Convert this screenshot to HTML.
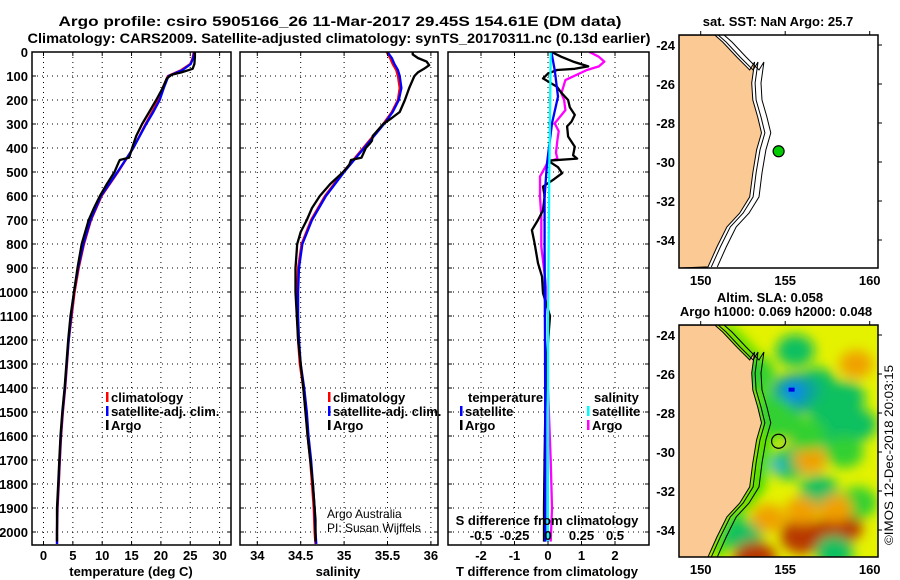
<!DOCTYPE html>
<html><head><meta charset="utf-8">
<style>
html,body{margin:0;padding:0;background:#fff;}
svg{display:block;font-family:"Liberation Sans",sans-serif;}
.b{font-weight:bold;font-size:13px;}
</style></head>
<body>
<svg id="fig" width="900" height="580" viewBox="0 0 900 580" xmlns="http://www.w3.org/2000/svg">
<defs>
<clipPath id="c1"><rect x="32" y="52" width="199" height="493"/></clipPath>
<clipPath id="c2"><rect x="240" y="52" width="198" height="493"/></clipPath>
<clipPath id="c3"><rect x="448" y="52" width="201" height="493"/></clipPath>
<clipPath id="cm1"><rect x="679" y="35" width="199" height="233"/></clipPath>
<clipPath id="cm2"><rect x="679" y="325" width="199" height="232"/></clipPath>
<filter id="blur" x="-50%" y="-50%" width="200%" height="200%"><feGaussianBlur stdDeviation="6"/></filter>
</defs>
<text x="340" y="26" text-anchor="middle" font-weight="bold" font-size="14" textLength="563" lengthAdjust="spacingAndGlyphs">Argo profile: csiro 5905166_26 11-Mar-2017 29.45S 154.61E (DM data)</text>
<text x="339" y="43" text-anchor="middle" font-weight="bold" font-size="14" textLength="623" lengthAdjust="spacingAndGlyphs">Climatology: CARS2009. Satellite-adjusted climatology: synTS_20170311.nc (0.13d earlier)</text>
<g id="g1"></g>
<g id="g2"></g>
<g id="g3"></g>
<g id="m1"></g>
<g id="m2"></g>
<text transform="translate(893,455) rotate(-90)" text-anchor="middle" font-size="12" textLength="180" lengthAdjust="spacingAndGlyphs">©IMOS 12-Dec-2018 20:03:15</text>
</svg>
<script>
// ---- data ----
const argoTDepth=[0,20,50,70,85,95,110,150,200,250,300,350,400,440,450,460,500,550,600,650,700,800,900,1000,1100,1200,1300,1400,1500,1600,1700,1800,1900,2000,2040];
const argoTemp=[25.8,25.8,25.7,25.4,23.5,21.8,21.0,20.3,19.2,18.0,16.8,15.8,15.1,14.6,13.0,12.8,12.1,10.8,9.6,8.6,7.7,6.5,5.8,5.2,4.6,4.2,3.9,3.6,3.2,2.9,2.7,2.5,2.3,2.3,2.3];
const climDepth=[0,25,50,75,100,150,200,250,300,400,500,600,700,800,900,1000,1100,1200,1300,1400,1500,1600,1700,1800,1900,2000,2050];
const climTemp=[25.6,25.4,25.0,23.5,21.2,20.3,19.6,18.5,17.4,15.3,12.7,9.9,8.1,6.9,6.0,5.3,4.8,4.3,4.0,3.7,3.3,3.0,2.8,2.6,2.4,2.3,2.3];
const satTemp=[25.7,25.5,25.1,23.7,21.3,20.5,19.8,18.7,17.5,15.3,12.6,9.8,8.0,6.8,5.9,5.2,4.7,4.3,3.95,3.65,3.25,2.95,2.75,2.55,2.35,2.3,2.3];
const argoSDepth=[0,10,25,40,55,70,85,100,150,200,250,275,300,350,370,380,400,440,450,470,500,550,600,650,700,750,800,900,1000,1200,1400,1600,1800,1900,1950,2040];
const argoSal=[35.79,35.79,35.85,35.95,35.98,35.92,35.85,35.81,35.75,35.7,35.64,35.55,35.45,35.33,35.32,35.3,35.25,35.2,35.08,35.06,34.99,34.84,34.72,34.63,34.57,34.5,34.46,34.44,34.44,34.47,34.53,34.58,34.64,34.66,34.67,34.67];
const climSal=[35.49,35.53,35.56,35.6,35.62,35.64,35.62,35.55,35.45,35.22,34.99,34.78,34.62,34.51,34.47,34.46,34.46,34.47,34.49,34.53,34.56,34.58,34.61,34.63,34.65,34.66,34.67];
const satSal=[35.5,35.55,35.58,35.62,35.64,35.66,35.63,35.56,35.46,35.23,35.0,34.79,34.63,34.52,34.48,34.47,34.47,34.48,34.5,34.54,34.57,34.59,34.62,34.64,34.66,34.67,34.68];
const tDiffArgoDepth=[0,20,40,60,70,75,90,110,145,170,200,230,262,290,310,352,395,430,444,453,480,505,533,561,600,660,700,742,797,880,936,1005,1100,1300,1500,1700,1900,2040];
const tDiffArgo=[0.1,0.4,0.75,1.2,0.8,0.27,0.0,-0.15,0.27,0.4,0.6,0.65,0.8,0.7,0.57,0.6,0.8,0.75,0.87,0.0,0.3,0.42,0.15,-0.15,-0.1,-0.15,-0.3,-0.48,-0.4,-0.3,-0.18,-0.15,0.06,-0.05,-0.08,-0.1,-0.12,-0.12];
const sDiffArgoDepth=[0,20,40,60,75,117,172,200,242,297,330,367,420,444,458,519,603,686,811,950,1100,1400,1700,1900,2040];
const sDiffArgo=[0.31,0.38,0.42,0.38,0.29,0.13,0.1,0.12,0.13,0.05,0.08,0.07,0.06,0.07,0.0,-0.06,-0.06,-0.05,-0.05,-0.02,0.0,0.0,0.02,0.03,0.02];
const tDiffSatDepth=[0,75,186,297,464,603,800,1200,1600,2040];
const tDiffSat=[0.1,0.2,0.3,0.12,-0.03,-0.1,-0.1,-0.09,-0.08,-0.08];
const sDiffSatDepth=[0,500,1100,2040];
const sDiffSat=[0.02,0.01,0.0,0.0];
const depthTicks=[0,100,200,300,400,500,600,700,800,900,1000,1100,1200,1300,1400,1500,1600,1700,1800,1900,2000];
const tempTicks=[0,5,10,15,20,25,30];
const salTicks=[34,34.5,35,35.5,36];
const salTickLabels=["34","34.5","35","35.5","36"];
const tDiffTicks=[-2,-1,0,1,2];
const sDiffTicks=[-0.5,-0.25,0,0.25,0.5];
const sDiffTickLabels=["-0.5","-0.25","0","0.25","0.5"];
const lonTicks=[150,155,160];
const latTicks=[-24,-26,-28,-30,-32,-34];
const coastLon=[150.84,151.31,152.14,152.9,153.19,153.02,153.08,153.37,153.6,153.31,153.08,152.9,152.31,151.55,150.96,150.43];
const coastLat=[-23.49,-23.85,-24.62,-25.28,-24.87,-25.95,-26.82,-27.69,-28.51,-29.38,-30.56,-31.79,-32.62,-33.33,-34.36,-35.38];
const floatLon=154.61, floatLat=-29.45;
// SLA blobs: lon, lat, level
const blobLon=[155.6,156.9,158.6,155.6,155.3,155.8,156.5,157.0,156.0,158.3,157.9,152.5,159.2,159.3,154.3,153.3,157.5,153.2,157.5,159.3,158.5,156.3,154.0,156.0,158.0,155.0];
const blobLat=[-24.8,-26.5,-27.2,-27.0,-30.6,-29.0,-30.4,-32.0,-34.3,-33.8,-35.1,-34.3,-25.5,-32.6,-28.0,-26.0,-29.0,-35.5,-27.8,-28.6,-30.0,-29.1,-33.4,-33.0,-32.9,-28.5];
const blobLevel=[-0.3,-0.3,-0.3,-0.8,-0.5,0.35,0.4,-0.3,0.9,0.8,-0.4,-0.3,0.35,-0.25,-0.2,-0.2,-0.3,0.9,-0.3,-0.3,-0.25,-0.2,0.4,0.4,0.4,-0.2];

const NS="http://www.w3.org/2000/svg";
function mk(tag,attrs,parent){const e=document.createElementNS(NS,tag);for(const k in attrs)e.setAttribute(k,attrs[k]);parent.appendChild(e);return e;}
function txt(s,attrs,parent){const e=mk('text',attrs,parent);e.textContent=s;return e;}
const yD=d=>52+d*0.24;
const xT=t=>43.5+t*5.87;
const xS=s=>257.3+(s-34)*86.8;
const xDT=t=>548+t*33.5;
const xDS=s=>548+s*134;

function series(g,depths,vals,xf,color,name){
  const pts=depths.map((d,i)=>xf(vals[i]).toFixed(1)+','+yD(d).toFixed(1)).join(' ');
  const p=mk('polyline',{points:pts,fill:'none',stroke:color,'stroke-width':2.3,'stroke-linejoin':'round'},g);
  
  
}
function frame(g,x0,x1,clip,gridXs){
  const gg=mk('g',{'clip-path':'url(#'+clip+')'},g);
  gridXs.forEach(x=>{const l=mk('line',{x1:x,x2:x,y1:52,y2:545,stroke:'#000','stroke-width':1,'stroke-dasharray':'1,4'},gg);
    
    });
  depthTicks.forEach(d=>{const l=mk('line',{x1:x0,x2:x1,y1:yD(d),y2:yD(d),stroke:'#000','stroke-width':1,'stroke-dasharray':'1,4'},gg);
    
    });
  depthTicks.forEach(d=>{mk('line',{x1:x0,x2:x0+4,y1:yD(d),y2:yD(d),stroke:'#000'},g);mk('line',{x1:x1-4,x2:x1,y1:yD(d),y2:yD(d),stroke:'#000'},g);});
  gridXs.forEach(x=>{mk('line',{x1:x,x2:x,y1:52,y2:56,stroke:'#000'},g);mk('line',{x1:x,x2:x,y1:541,y2:545,stroke:'#000'},g);});
  return gg;
}
function border(g,x0,x1,name){const r=mk('rect',{x:x0,y:52,width:x1-x0,height:493,fill:'none',stroke:'#000','stroke-width':1.5},g);
  
  }
function legendItem(g,x,y,color,label,name){
  mk('rect',{x:x,y:y-10,width:2.5,height:10,fill:color},g);
  const t=txt(label,{x:x+5,y:y,class:'b'},g);
  
  
}

// Panel 1
const g1=document.getElementById('g1');
const c1=frame(g1,32,231,'c1',tempTicks.map(xT));
series(c1,climDepth,climTemp,xT,'#ff0000','temp-climatology-line');
series(c1,climDepth,satTemp,xT,'#0000ff','temp-satellite-line');
series(c1,argoTDepth,argoTemp,xT,'#000000','temp-argo-line');
border(g1,32,231,'temperature-plot-frame');
depthTicks.forEach(d=>{const t=txt(String(d),{x:28,y:yD(d)+5,'text-anchor':'end',class:'b'},g1);
  
  });
tempTicks.forEach(v=>{const t=txt(String(v),{x:xT(v),y:560,'text-anchor':'middle',class:'b'},g1);
  
  });
{const t=txt('temperature (deg C)',{x:131,y:576,'text-anchor':'middle',class:'b'},g1);

}
legendItem(g1,106,402,'#ff0000','climatology','legend-climatology');
legendItem(g1,106,416,'#0000ff','satellite-adj. clim.','legend-satellite');
legendItem(g1,106,430,'#000000','Argo','legend-argo');

// Panel 2
const g2=document.getElementById('g2');
const c2=frame(g2,240,438,'c2',salTicks.map(xS));
series(c2,climDepth,climSal,xS,'#ff0000','sal-climatology-line');
series(c2,climDepth,satSal,xS,'#0000ff','sal-satellite-line');
series(c2,argoSDepth,argoSal,xS,'#000000','sal-argo-line');
border(g2,240,438,'salinity-plot-frame');
salTicks.forEach((v,i)=>{const t=txt(salTickLabels[i],{x:xS(v),y:560,'text-anchor':'middle',class:'b'},g2);
  
  });
{const t=txt('salinity',{x:338,y:576,'text-anchor':'middle',class:'b'},g2);

}
legendItem(g2,328,402,'#ff0000','climatology','legend-climatology-2');
legendItem(g2,328,416,'#0000ff','satellite-adj. clim.','legend-satellite-2');
legendItem(g2,328,430,'#000000','Argo','legend-argo-2');
{const t=txt('Argo Australia',{x:327,y:518,'font-size':12},g2);


const t2=txt('PI: Susan Wijffels',{x:327,y:532,'font-size':12},g2);

}

// Panel 3
const g3=document.getElementById('g3');
const c3=frame(g3,448,649,'c3',sDiffTicks.map(xDS));
series(c3,sDiffArgoDepth,sDiffArgo,xDS,'#ff00ff','sdiff-argo-line');
series(c3,tDiffArgoDepth,tDiffArgo,xDT,'#000000','tdiff-argo-line');
series(c3,tDiffSatDepth,tDiffSat,xDT,'#0000ff','tdiff-satellite-line');
series(c3,sDiffSatDepth,sDiffSat,xDS,'#00ffff','sdiff-satellite-line');
border(g3,448,649,'difference-plot-frame');
tDiffTicks.forEach(v=>{const t=txt(String(v),{x:xDT(v),y:560,'text-anchor':'middle',class:'b'},g3);
  
  });
sDiffTicks.forEach((v,i)=>{const t=txt(sDiffTickLabels[i],{x:xDS(v),y:540,'text-anchor':'middle',class:'b'},g3);
  
  });
{const t=txt('S difference from climatology',{x:547,y:525,'text-anchor':'middle',class:'b'},g3);


const t2=txt('T difference from climatology',{x:547,y:576,'text-anchor':'middle',class:'b'},g3);


const t3=txt('temperature',{x:468,y:402,class:'b'},g3);


const t4=txt('salinity',{x:594,y:402,class:'b'},g3);

}
legendItem(g3,460,416,'#0000ff','satellite','legend-t-satellite');
legendItem(g3,460,430,'#000000','Argo','legend-t-argo');
legendItem(g3,587,416,'#00ffff','satellite','legend-s-satellite');
legendItem(g3,587,430,'#ff00ff','Argo','legend-s-argo');

// Maps
function buildMap(gid,top,bottom,latY0,clip,sla){
  const g=document.getElementById(gid);
  const xL=lon=>700.7+(lon-150)*16.9;
  const yL=lat=>latY0+(-24-lat)*19.5;
  const inner=mk('g',{'clip-path':'url(#'+clip+')'},g);
  if(sla){
    const bg=mk('rect',{x:679,y:top,width:199,height:bottom-top,fill:'#e4f200'},inner);
    
    
    const bl=mk('g',{filter:'url(#blur)'},inner);
    const band=coastLon.map((l,i)=>xL(l+0.05).toFixed(1)+','+yL(coastLat[i]).toFixed(1)).concat(coastLon.slice().reverse().map((l,i)=>xL(l+0.9).toFixed(1)+','+yL(coastLat[coastLat.length-1-i]).toFixed(1))).join(' ');
    const bp=mk('polygon',{points:band,fill:'#30d800'},bl);
    
    
    blobLon.forEach((lo,i)=>{
      const v=blobLevel[i];
      let col,r;
      if(v<=-0.7){col='#10a0a0';r=20;}else if(v<0){col=v<-0.28?'#10c060':'#30d030';r=16;}else if(v<0.6){col='#f0a000';r=14;}else{col='#b83800';r=18;}
      const e=mk('ellipse',{cx:xL(lo),cy:yL(blobLat[i]),rx:r*1.2,ry:r,fill:col},bl);
      
      
    });
    const ed=mk('ellipse',{cx:xL(155.5),cy:yL(-26.9),rx:9,ry:8,fill:'#1080ff'},bl);
    
    
    const ed2=mk('ellipse',{cx:xL(154.5),cy:yL(-30.7),rx:6,ry:8,fill:'#40b0e0'},bl);
    
    
    const c=mk('rect',{x:xL(155.2),y:yL(-26.7),width:6,height:4,fill:'#0000e0'},inner);
    
    
  }
  const land=coastLon.map((l,i)=>xL(l).toFixed(1)+','+yL(coastLat[i]).toFixed(1));
  land.unshift('679,'+top); land.push('679,'+bottom);
  const lp=mk('polygon',{points:land.join(' ')+' 679,'+bottom,fill:'#fbc993',stroke:'#000','stroke-width':1},inner);
  
  
  [0.2,0.55].forEach(off=>{
    const pl=mk('polyline',{points:coastLon.map((l,i)=>xL(l+off).toFixed(1)+','+yL(coastLat[i]).toFixed(1)).join(' '),fill:'none',stroke:'#000','stroke-width':1},inner);
    
    
  });
  const f=mk('circle',{cx:xL(floatLon),cy:yL(floatLat),r:sla?7:5.5,fill:sla?'none':'#00cc00',stroke:'#000','stroke-width':1.2},g);
  
  
  const fr=mk('rect',{x:679,y:top,width:199,height:bottom-top,fill:'none',stroke:'#000','stroke-width':1.5},g);
  
  
  lonTicks.forEach(lo=>{mk('line',{x1:xL(lo),x2:xL(lo),y1:top-4,y2:top,stroke:'#000'},g);
    const t=txt(String(lo),{x:xL(lo),y:bottom+17,'text-anchor':'middle',class:'b'},g);
    
    });
  latTicks.forEach(la=>{mk('line',{x1:878,x2:882,y1:yL(la),y2:yL(la),stroke:'#000'},g);
    const t=txt(String(la),{x:675,y:yL(la)+5,'text-anchor':'end',class:'b'},g);
    
    });
}
buildMap('m1',35,268,45,'cm1',false);
buildMap('m2',325,557,335,'cm2',true);
const m1=document.getElementById('m1'), m2=document.getElementById('m2');
{const t=txt('sat. SST: NaN Argo: 25.7',{x:778,y:26,'text-anchor':'middle',class:'b','font-size':12},m1);


const t2=txt('Altim. SLA: 0.058',{x:770,y:302,'text-anchor':'middle',class:'b'},m2);


const t3=txt('Argo h1000: 0.069 h2000: 0.048',{x:776,y:316,'text-anchor':'middle',class:'b'},m2);

}
</script>
</body></html>
